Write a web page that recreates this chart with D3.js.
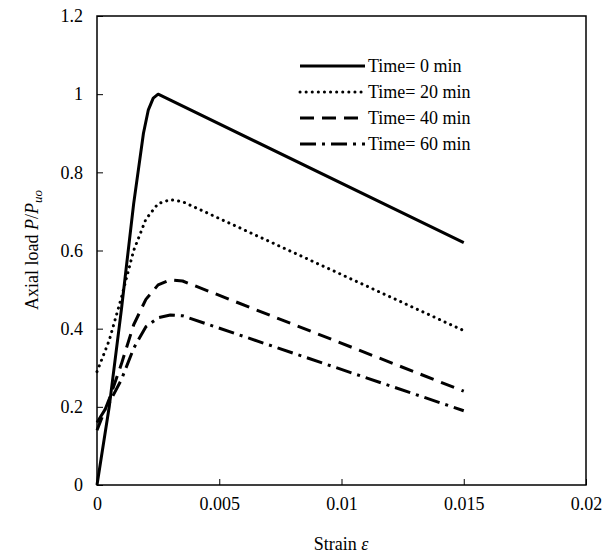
<!DOCTYPE html><html><head><meta charset="utf-8"><script src="https://cdn.jsdelivr.net/npm/d3@7"></script>
<style>body{margin:0;background:#fff}svg text{font-family:"Liberation Serif",Tinos,"Times New Roman","DejaVu Serif",serif !important;font-size:18px !important}</style></head><body><svg id="c" width="609" height="560"></svg><script>
const xTicks=[0,0.005,0.01,0.015,0.02];
const yTicks=[0,0.2,0.4,0.6,0.8,1,1.2];
const names=["Time= 0 min","Time= 20 min","Time= 40 min","Time= 60 min"];
const dashes=["none","0.1,6","14,8","16,6,3,6"];
const s0=[[0,0],[0.0005,0.2],[0.001,0.45],[0.0015,0.72],[0.0019,0.9],[0.0021,0.96],[0.0023,0.99],[0.0025,1.0],[0.015,0.62]];
const s20=[[0,0.29],[0.0005,0.37],[0.001,0.48],[0.0015,0.6],[0.002,0.68],[0.0025,0.72],[0.003,0.73],[0.0035,0.725],[0.015,0.395]];
const s40=[[0,0.14],[0.0005,0.22],[0.001,0.31],[0.0015,0.41],[0.002,0.475],[0.0025,0.512],[0.003,0.525],[0.0035,0.522],[0.015,0.24]];
const s60=[[0,0.16],[0.0005,0.21],[0.001,0.27],[0.0015,0.35],[0.002,0.405],[0.0025,0.428],[0.003,0.435],[0.0035,0.433],[0.015,0.19]];
const series=[s0,s20,s40,s60];
const svg=d3.select("#c");
const x=d3.scaleLinear([0,0.02],[97,586]);
const y=d3.scaleLinear([0,1.2],[485,16]);
svg.append("g").attr("transform","translate(0,485)").call(d3.axisBottom(x).tickValues(xTicks).tickFormat(d=>d).tickSize(-6).tickPadding(12))
 .call(g=>{g.select(".domain").remove();g.selectAll("line").attr("stroke","#000");g.selectAll("text").attr("fill","#000");});
svg.append("g").attr("transform","translate(97,0)").call(d3.axisLeft(y).tickValues(yTicks).tickFormat(d=>d).tickSize(-6).tickPadding(14))
 .call(g=>{g.select(".domain").remove();g.selectAll("line").attr("stroke","#000");g.selectAll("text").attr("fill","#000");});
svg.append("rect").attr("x",97).attr("y",16).attr("width",489).attr("height",469).attr("fill","none").attr("stroke","#000").attr("stroke-width",1.5);
const line=d3.line().x(d=>x(d[0])).y(d=>y(d[1])).curve(d3.curveLinear);
series.forEach((s,i)=>svg.append("path").attr("d",line(s)).attr("fill","none").attr("stroke","#000").attr("stroke-width",3).attr("stroke-linecap",i==1?"round":"butt").attr("stroke-linejoin","round").attr("stroke-dasharray",dashes[i]));
names.forEach((n,i)=>{const yy=66+i*26;
 svg.append("line").attr("x1",300).attr("x2",365).attr("y1",yy).attr("y2",yy).attr("stroke","#000").attr("stroke-width",3).attr("stroke-linecap",i==1?"round":"butt").attr("stroke-dasharray",dashes[i]);
 svg.append("text").attr("x",368).attr("y",yy+6).text(n);});
svg.append("text").attr("x",341).attr("y",550).attr("text-anchor","middle").html('Strain <tspan font-style="italic">ε</tspan>');
svg.append("text").attr("transform","translate(38,250) rotate(-90)").attr("text-anchor","middle").html('Axial load <tspan font-style="italic">P</tspan>/<tspan font-style="italic">P</tspan><tspan font-style="italic" style="font-size:13px !important" dy="4">uo</tspan>');
</script></body></html>
